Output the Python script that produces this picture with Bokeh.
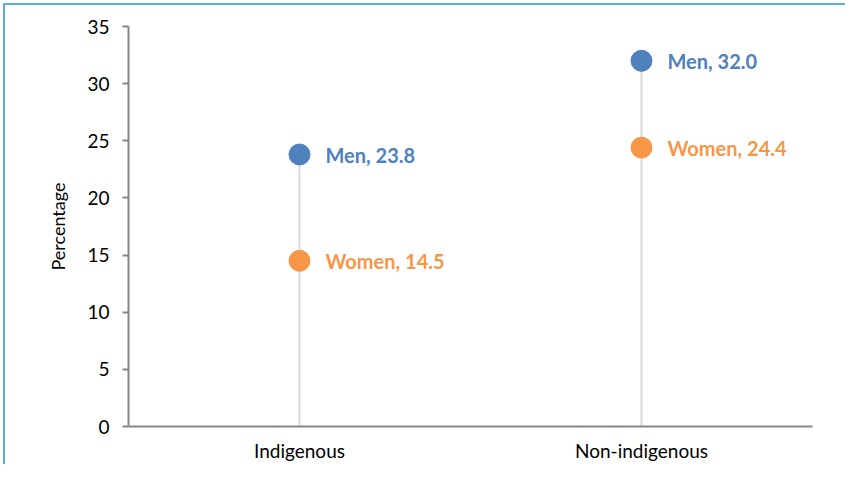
from bokeh.plotting import figure
from bokeh.models import Range1d, FactorRange, ColumnDataSource, FixedTicker
from bokeh.embed import file_html
from bokeh.resources import INLINE
from bokeh.core.properties import value

groups = ["Indigenous", "Non-indigenous"]
men = [23.8, 32.0]
women = [14.5, 24.4]
y_ticks = [0, 5, 10, 15, 20, 25, 30, 35]

BLUE = "#4F81BD"
ORANGE = "#F79646"
FONT = "Lato"

p = figure(width=845, height=464, x_range=FactorRange(*groups, range_padding=0),
           y_range=Range1d(0, 35), output_backend="svg", toolbar_location=None,
           min_border_left=128, min_border_right=33, min_border_top=26, min_border_bottom=37)
p.border_fill_color = None
p.styles = {"box-shadow": "inset 3px 3px 0 0 #ffffff, inset 5px 5px 0 0 #5aaee0",
            "background-color": "#ffffff"}
p.outline_line_color = None
p.xgrid.grid_line_color = None
p.ygrid.grid_line_color = None

stem_top = [max(m, w) for m, w in zip(men, women)]
p.segment(x0=groups, y0=[0] * len(groups), x1=groups, y1=stem_top,
          line_color="#d9d9d9", line_width=2)

src_m = ColumnDataSource(dict(x=groups, y=men, lab=[f"Men, {v:.1f}" for v in men]))
src_w = ColumnDataSource(dict(x=groups, y=women, lab=[f"Women, {v:.1f}" for v in women]))

p.scatter("x", "y", source=src_m, size=21, fill_color=BLUE, line_color=BLUE)
p.scatter("x", "y", source=src_w, size=21, fill_color=ORANGE, line_color=ORANGE)

for src, col in ((src_m, BLUE), (src_w, ORANGE)):
    p.text("x", "y", text="lab", source=src, x_offset=26, text_baseline="middle",
           text_align="left", text_color=col, text_font=value(FONT),
           text_font_style="bold", text_font_size="20px")

p.yaxis.ticker = FixedTicker(ticks=y_ticks)
p.yaxis.axis_label = "Percentage"
for ax in (p.xaxis, p.yaxis):
    ax.axis_line_color = "#868686"
    ax.axis_line_width = 2
    ax.major_label_text_font = FONT
    ax.major_label_text_font_size = "19px"
    ax.major_label_text_color = "#000000"
p.yaxis.major_tick_line_color = "#868686"
p.yaxis.major_tick_line_width = 2
p.yaxis.major_tick_out = 6
p.yaxis.major_tick_in = 0
p.yaxis.minor_tick_line_color = None
p.yaxis.major_label_standoff = 13
p.yaxis.axis_label_text_font = FONT
p.yaxis.axis_label_text_font_size = "18px"
p.yaxis.axis_label_text_font_style = "normal"
p.yaxis.axis_label_text_color = "#000000"
p.yaxis.axis_label_standoff = 15
p.xaxis.major_tick_line_color = None
p.xaxis.major_tick_out = 0
p.xaxis.major_tick_in = 0
p.xaxis.minor_tick_line_color = None
p.xaxis.major_label_standoff = 12

open("out.html", "w").write(file_html(p, INLINE))
